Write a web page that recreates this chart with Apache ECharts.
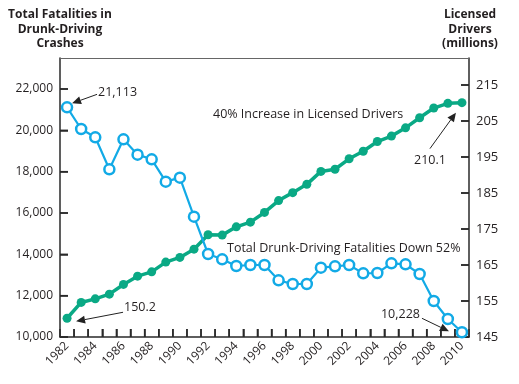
<!DOCTYPE html>
<html>
<head>
<meta charset="utf-8">
<script src="https://cdn.jsdelivr.net/npm/echarts@6/dist/echarts.min.js"></script>
<style>html,body{margin:0;padding:0;background:#fff;}#c{width:519px;height:384px;}</style>
</head>
<body>
<div id="c"></div>
<script>
const years = ['1982','1983','1984','1985','1986','1987','1988','1989','1990','1991','1992','1993','1994','1995','1996','1997','1998','1999','2000','2001','2002','2003','2004','2005','2006','2007','2008','2009','2010'];
const fatalities = [21113,20064,19663,18114,19565,18823,18597,17516,17710,15823,14016,13759,13435,13484,13484,12743,12564,12564,13355,13419,13484,13081,13097,13565,13516,13048,11742,10871,10228];
const drivers = [150.2,154.6,155.6,156.9,159.6,161.9,163.1,165.8,167.1,169.4,173.4,173.3,175.6,176.9,179.6,182.9,185.1,187.4,191.0,191.6,194.5,196.6,199.3,200.8,203.1,205.9,208.6,209.9,210.1];
const leftTicks = [10000,12000,14000,16000,18000,20000,22000];
const rightTicks = [145,155,165,175,185,195,205,215];

const FONT = 'Open Sans';
const TXT = '#231f20';
const BLUE = '#12aae6';
const GREEN = '#0aa985';
const AX = '#2a2a2a';

const chart = echarts.init(document.getElementById('c'));
chart.setOption({
  animation:false,
  grid:{left:60,right:50,top:58,bottom:47},
  xAxis:[{
    type:'category', data:years, boundaryGap:true,
    axisLine:{show:true,lineStyle:{color:AX,width:1.5}},
    axisTick:{show:true,inside:true,length:8,interval:0,lineStyle:{color:AX,width:1.5}},
    axisLabel:{interval:1,rotate:45,fontSize:12,color:TXT,fontFamily:FONT,margin:7},
    splitLine:{show:false}
  },{
    type:'category', data:years, position:'top', boundaryGap:true,
    axisLine:{show:true,lineStyle:{color:'#666',width:1}},
    axisTick:{show:false}, axisLabel:{show:false}, splitLine:{show:false}
  }],
  yAxis:[{
    type:'value', min:10000, max:23500, interval:2000,
    axisLine:{show:true,lineStyle:{color:AX,width:1.5}},
    axisTick:{show:true,inside:true,length:8,lineStyle:{color:AX,width:1.5}},
    axisLabel:{showMaxLabel:false,fontSize:12,color:TXT,fontFamily:FONT,margin:7,
      formatter:v=>v.toLocaleString('en-US')},
    splitLine:{show:false}
  },{
    type:'value', min:145, max:222.5, position:'right',
    axisLine:{show:true,lineStyle:{color:AX,width:1.5}},
    axisTick:{show:true,inside:true,length:8,customValues:rightTicks,lineStyle:{color:AX,width:1.5}},
    axisLabel:{customValues:rightTicks,fontSize:13,color:TXT,fontFamily:FONT,margin:7},
    splitLine:{show:false}
  }],
  series:[{
    name:'Licensed Drivers', type:'line', xAxisIndex:0, yAxisIndex:1, data:drivers,
    symbol:'circle', symbolSize:9, showAllSymbol:true,
    lineStyle:{color:GREEN,width:3.5}, itemStyle:{color:GREEN}
  },{
    name:'Fatalities', type:'line', xAxisIndex:0, yAxisIndex:0, data:fatalities,
    symbol:'circle', symbolSize:10, showAllSymbol:true,
    lineStyle:{color:BLUE,width:2.2}, itemStyle:{color:'#fff',borderColor:BLUE,borderWidth:2.5}
  }]
});

function px(i, v, axis){ return chart.convertToPixel({xAxisIndex:0,yAxisIndex:axis},[i,v]); }
function seg(x1,y1,x2,y2){ return {type:'line',shape:{x1:x1,y1:y1,x2:x2,y2:y2},style:{stroke:AX,lineWidth:1.5}}; }
function arrow(x1,y1,x2,y2){
  const a = Math.atan2(y2-y1,x2-x1), L=9, W=4;
  const bx = x2 - L*Math.cos(a), by = y2 - L*Math.sin(a);
  const nx = -Math.sin(a)*W, ny = Math.cos(a)*W;
  return [
    {type:'line',shape:{x1:x1,y1:y1,x2:bx,y2:by},style:{stroke:'#222',lineWidth:1}},
    {type:'polygon',shape:{points:[[x2,y2],[bx+nx,by+ny],[bx-nx,by-ny]]},style:{fill:'#222'}}
  ];
}
function text(x,y,s,align){
  return {type:'text',x:x,y:y,style:{text:s,fill:TXT,font:'12.5px "'+FONT+'"',textAlign:align||'left',textVerticalAlign:'middle'}};
}
const n = years.length-1;
const g = [];
const p0 = px(0,10000,0), p1 = px(1,10000,0);
const band = p1[0]-p0[0];
const baseY = p0[1];
const leftX = p0[0]-band/2, rightX = px(n,10000,0)[0]+band/2;
for(let i=0;i<n;i++){ const x = px(i,10000,0)[0]+band/2; g.push(seg(x,baseY,x,baseY-8)); }
leftTicks.forEach(v=>{ const y = px(0,v,0)[1]; g.push(seg(leftX,y,leftX+8,y)); });
rightTicks.forEach(v=>{ const y = px(0,v,1)[1]; g.push(seg(rightX,y,rightX-8,y)); });

const pF0 = px(0,fatalities[0],0), pD0 = px(0,drivers[0],1);
const pFn = px(n,fatalities[n],0), pDn = px(n,drivers[n],1);
g.push(text(pF0[0]+31,pF0[1]-15,'21,113'));
g.push(...arrow(pF0[0]+30,pF0[1]-13,pF0[0]+5,pF0[1]-4));
g.push(text(pD0[0]+57,pD0[1]-11,'150.2'));
g.push(...arrow(pD0[0]+56,pD0[1]-6,pD0[0]+9,pD0[1]+3));
g.push(text(pFn[0]-42,pFn[1]-18,'10,228','right'));
g.push(...arrow(pFn[0]-40,pFn[1]-14,pFn[0]-13,pFn[1]-1));
g.push(text(pDn[0]-32,pDn[1]+58,'210.1','center'));
g.push(...arrow(pDn[0]-32,pDn[1]+46,pDn[0]-6,pDn[1]+10));
g.push(text(213,114,'40% Increase in Licensed Drivers'));
g.push(text(227,248,'Total Drunk-Driving Fatalities Down 52%'));
const bold = '700 12px "'+FONT+'"';
['Total Fatalities in','Drunk-Driving','Crashes'].forEach((s,i)=>g.push({type:'text',x:60,y:15+i*14.5,style:{text:s,fill:TXT,font:bold,textAlign:'center',textVerticalAlign:'middle'}}));
['Licensed','Drivers','(millions)'].forEach((s,i)=>g.push({type:'text',x:470,y:15+i*14.5,style:{text:s,fill:TXT,font:bold,textAlign:'center',textVerticalAlign:'middle'}}));
chart.setOption({graphic:g});
</script>
</body>
</html>
